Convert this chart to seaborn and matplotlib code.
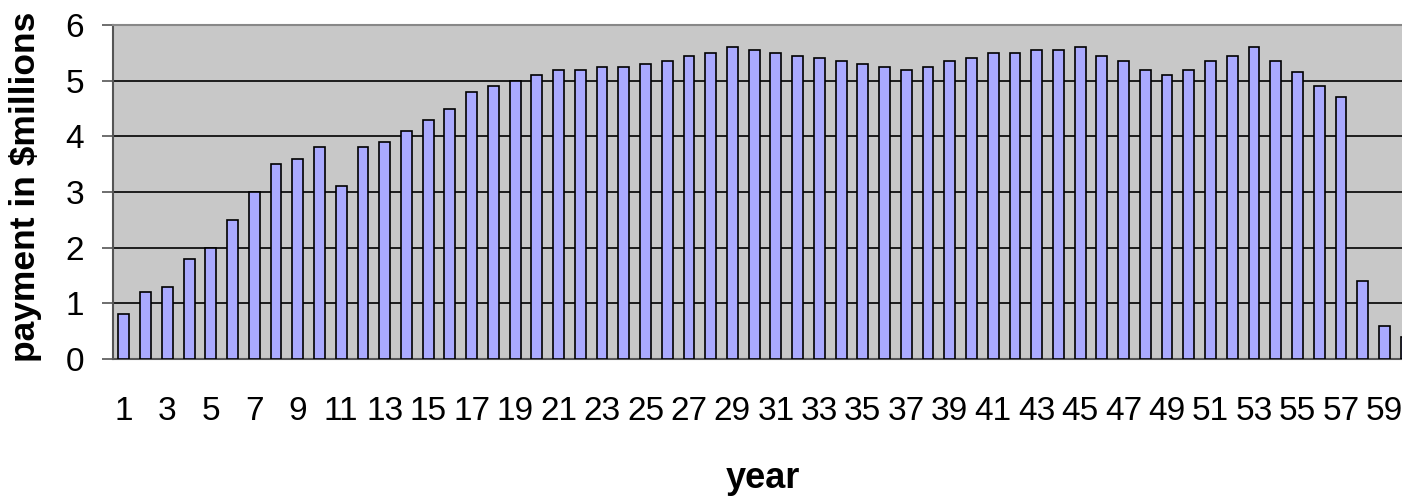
import numpy as np
import pandas as pd
import matplotlib
matplotlib.use("Agg")
import matplotlib.pyplot as plt
import seaborn as sns

years = list(range(1, 61))
payment = [0.8, 1.2, 1.3, 1.8, 2.0, 2.5, 3.0, 3.5, 3.6, 3.8,
           3.1, 3.8, 3.9, 4.1, 4.3, 4.5, 4.8, 4.9, 5.0, 5.1,
           5.2, 5.2, 5.25, 5.25, 5.3, 5.35, 5.45, 5.5, 5.6, 5.55,
           5.5, 5.45, 5.4, 5.35, 5.3, 5.25, 5.2, 5.25, 5.35, 5.4,
           5.5, 5.5, 5.55, 5.55, 5.6, 5.45, 5.35, 5.2, 5.1, 5.2,
           5.35, 5.45, 5.6, 5.35, 5.15, 4.9, 4.7, 1.4, 0.6, 0.4]
y_ticks = [0, 1, 2, 3, 4, 5, 6]

df = pd.DataFrame({"year": years, "payment": payment})

sns.set_style("white")
plt.rcParams['font.family'] = ['Liberation Sans', 'DejaVu Sans']
plt.rcParams['text.color'] = 'black'
plt.rcParams['xtick.color'] = 'black'
plt.rcParams['ytick.color'] = 'black'

fig = plt.figure(figsize=(14.02, 4.96), dpi=100)
# plot area runs past the right edge, like the cropped original
ax = fig.add_axes([113/1402, 137/496, 1304/1402, 334/496])
ax.set_facecolor("#C8C8C8")

sns.barplot(df, x="year", y="payment", ax=ax, color="#AAAAFF",
            saturation=1, width=0.5, edgecolor="black", linewidth=1.2, zorder=3)

ax.set_ylim(0, 6)
ax.set_xlim(-0.5, 59.5)
ax.set_yticks(y_ticks)
ax.yaxis.grid(True, color="black", linewidth=1.2, zorder=1)
ax.set_axisbelow(True)

ax.set_xticks(range(0, 60, 2))
ax.set_xticklabels([str(y) for y in years[::2]])
ax.set_xticks(np.arange(-0.5, 60, 1), minor=True)
ax.tick_params(axis="x", which="major", length=0, pad=27, labelsize=24)
ax.tick_params(axis="x", which="minor", length=8, width=1.2, color="#555555", direction="out")
ax.tick_params(axis="y", length=8, width=1.2, color="#555555", pad=13, labelsize=24, left=True)
for lab in ax.get_xticklabels() + ax.get_yticklabels():
    lab.set_color("black")

for s in ["left", "bottom"]:
    ax.spines[s].set_color("#555555")
    ax.spines[s].set_linewidth(1.5)
ax.spines["top"].set_color("#888888")
ax.spines["top"].set_linewidth(1.5)
ax.spines["right"].set_visible(False)

ax.set_xlabel("")
ax.set_ylabel("")
fig.text(763/1402, 1 - 478/496, "year", ha="center", va="center",
         fontsize=26, fontweight="bold", color="black")
fig.text(26/1402, 1 - 187/496, "payment in $millions", ha="center", va="center",
         rotation=90, fontsize=25.5, fontweight="bold", color="black")

fig.savefig("out.png", dpi=100)
